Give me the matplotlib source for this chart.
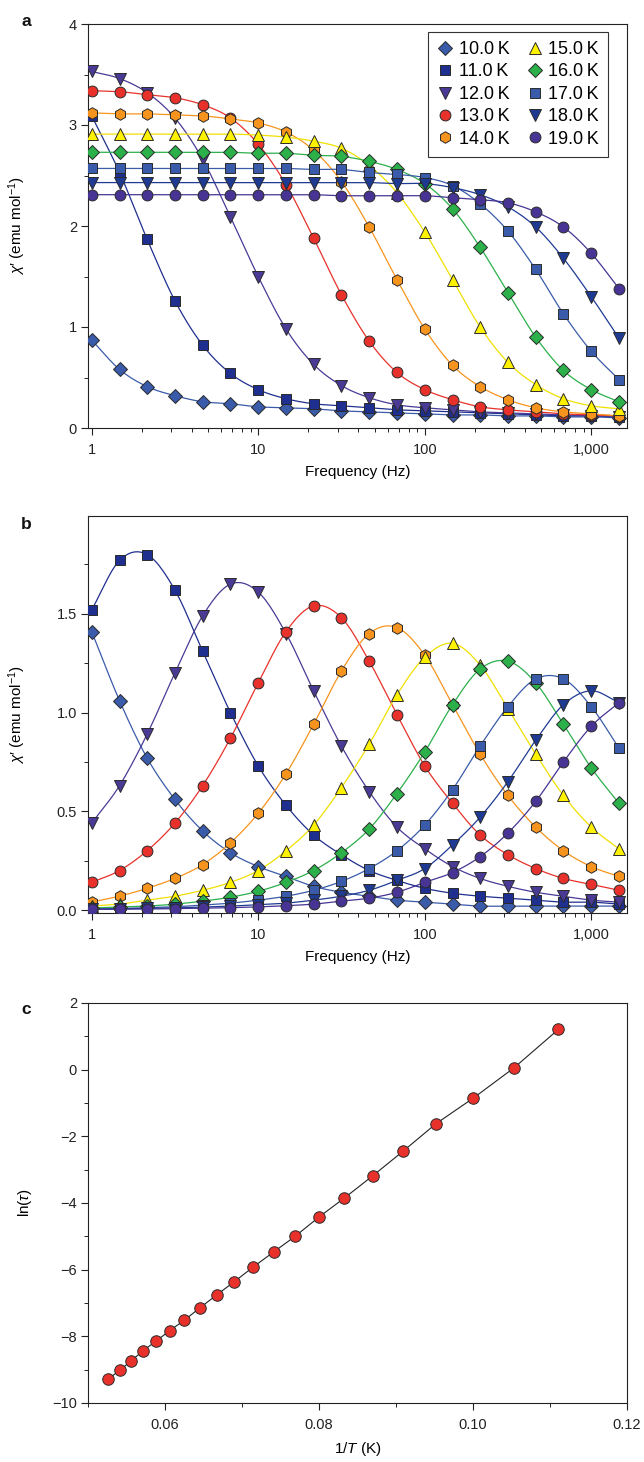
import numpy as np
import matplotlib
matplotlib.use("Agg")
import matplotlib.pyplot as plt
from matplotlib.lines import Line2D
from matplotlib.ticker import FixedLocator, FixedFormatter, MultipleLocator, NullFormatter, LogLocator, FuncFormatter

plt.rcParams['font.family'] = ['Liberation Sans', 'DejaVu Sans']
plt.rcParams['mathtext.fontset'] = 'custom'
plt.rcParams['mathtext.rm'] = 'Liberation Sans'
plt.rcParams['mathtext.it'] = 'Liberation Sans:italic'

# ---------------- data ----------------
freq = [1.0, 1.47, 2.15, 3.16, 4.64, 6.81, 10.0, 14.7, 21.5, 31.6,
        46.4, 68.1, 100.0, 147.0, 215.0, 316.0, 464.0, 681.0, 1000.0, 1468.0]

temps = ["10.0", "11.0", "12.0", "13.0", "14.0", "15.0", "16.0", "17.0", "18.0", "19.0"]

chi1_10 = [0.87, 0.58, 0.41, 0.32, 0.26, 0.24, 0.21, 0.20, 0.19, 0.17, 0.16, 0.15, 0.14, 0.13, 0.13, 0.12, 0.12, 0.11, 0.11, 0.10]
chi1_11 = [3.09, 2.53, 1.87, 1.26, 0.82, 0.54, 0.38, 0.29, 0.24, 0.22, 0.20, 0.18, 0.17, 0.16, 0.15, 0.14, 0.13, 0.12, 0.12, 0.11]
chi1_12 = [3.53, 3.46, 3.32, 3.07, 2.66, 2.09, 1.50, 0.98, 0.63, 0.42, 0.30, 0.23, 0.20, 0.18, 0.16, 0.15, 0.14, 0.13, 0.12, 0.11]
chi1_13 = [3.34, 3.33, 3.30, 3.27, 3.20, 3.07, 2.81, 2.41, 1.88, 1.32, 0.86, 0.55, 0.38, 0.28, 0.21, 0.18, 0.16, 0.14, 0.13, 0.12]
chi1_14 = [3.12, 3.11, 3.11, 3.10, 3.09, 3.06, 3.02, 2.93, 2.75, 2.44, 1.99, 1.47, 0.98, 0.62, 0.41, 0.28, 0.20, 0.16, 0.14, 0.12]
chi1_15 = [2.91, 2.91, 2.91, 2.91, 2.91, 2.91, 2.90, 2.88, 2.84, 2.77, 2.60, 2.33, 1.94, 1.47, 1.00, 0.65, 0.43, 0.29, 0.22, 0.19]
chi1_16 = [2.73, 2.73, 2.73, 2.73, 2.73, 2.73, 2.72, 2.72, 2.70, 2.69, 2.64, 2.56, 2.42, 2.17, 1.79, 1.34, 0.90, 0.57, 0.38, 0.26]
chi1_17 = [2.57, 2.57, 2.57, 2.57, 2.57, 2.57, 2.57, 2.57, 2.56, 2.56, 2.53, 2.51, 2.48, 2.40, 2.22, 1.95, 1.57, 1.13, 0.76, 0.48]
chi1_18 = [2.43, 2.43, 2.43, 2.43, 2.43, 2.43, 2.43, 2.43, 2.43, 2.43, 2.43, 2.42, 2.42, 2.38, 2.31, 2.19, 1.99, 1.68, 1.30, 0.89]
chi1_19 = [2.31, 2.31, 2.31, 2.31, 2.31, 2.31, 2.31, 2.31, 2.31, 2.30, 2.30, 2.30, 2.30, 2.28, 2.26, 2.23, 2.14, 1.99, 1.73, 1.38]

chi2_10 = [1.41, 1.06, 0.77, 0.56, 0.40, 0.29, 0.22, 0.17, 0.12, 0.09, 0.07, 0.05, 0.04, 0.03, 0.02, 0.02, 0.02, 0.02, 0.02, 0.02]
chi2_11 = [1.52, 1.77, 1.80, 1.62, 1.31, 1.00, 0.73, 0.53, 0.38, 0.28, 0.20, 0.15, 0.11, 0.085, 0.07, 0.06, 0.05, 0.04, 0.04, 0.03]
chi2_12 = [0.44, 0.63, 0.89, 1.20, 1.49, 1.65, 1.61, 1.40, 1.11, 0.83, 0.60, 0.42, 0.31, 0.22, 0.16, 0.12, 0.09, 0.07, 0.05, 0.04]
chi2_13 = [0.14, 0.20, 0.30, 0.44, 0.63, 0.87, 1.15, 1.41, 1.54, 1.48, 1.26, 0.99, 0.73, 0.54, 0.38, 0.28, 0.21, 0.16, 0.13, 0.10]
chi2_14 = [0.04, 0.07, 0.11, 0.16, 0.23, 0.34, 0.49, 0.69, 0.94, 1.21, 1.40, 1.43, 1.29, 1.04, 0.79, 0.58, 0.42, 0.30, 0.22, 0.17]
chi2_15 = [0.02, 0.03, 0.05, 0.07, 0.10, 0.14, 0.20, 0.30, 0.43, 0.62, 0.84, 1.09, 1.28, 1.35, 1.24, 1.02, 0.79, 0.58, 0.42, 0.31]
chi2_16 = [0.01, 0.015, 0.02, 0.03, 0.045, 0.065, 0.095, 0.14, 0.20, 0.29, 0.41, 0.59, 0.80, 1.04, 1.22, 1.26, 1.15, 0.94, 0.72, 0.54]
chi2_17 = [0.005, 0.008, 0.012, 0.017, 0.025, 0.035, 0.05, 0.07, 0.10, 0.145, 0.21, 0.30, 0.43, 0.61, 0.83, 1.03, 1.17, 1.17, 1.03, 0.82]
chi2_18 = [0.004, 0.006, 0.008, 0.011, 0.015, 0.02, 0.027, 0.035, 0.05, 0.07, 0.10, 0.15, 0.21, 0.33, 0.47, 0.65, 0.86, 1.04, 1.11, 1.05]
chi2_19 = [0.003, 0.004, 0.005, 0.007, 0.009, 0.012, 0.016, 0.022, 0.03, 0.045, 0.06, 0.09, 0.14, 0.19, 0.27, 0.39, 0.55, 0.75, 0.93, 1.05]

inv_T = [0.0526, 0.0541, 0.0556, 0.0571, 0.0588, 0.0606, 0.0625, 0.0645, 0.0667, 0.0690,
         0.0714, 0.0741, 0.0769, 0.0800, 0.0833, 0.0870, 0.0909, 0.0952, 0.1000, 0.1053, 0.1111]
ln_tau = [-9.29, -9.02, -8.74, -8.44, -8.15, -7.83, -7.52, -7.15, -6.76, -6.36,
          -5.93, -5.47, -5.00, -4.42, -3.85, -3.18, -2.45, -1.62, -0.86, 0.05, 1.21]

chi1 = [chi1_10, chi1_11, chi1_12, chi1_13, chi1_14, chi1_15, chi1_16, chi1_17, chi1_18, chi1_19]
chi2 = [chi2_10, chi2_11, chi2_12, chi2_13, chi2_14, chi2_15, chi2_16, chi2_17, chi2_18, chi2_19]

# ---------------- styles ----------------
fills = ['#3a5ba9', '#1f2f8f', '#4a3a96', '#e8312b', '#f7941d',
         '#fff200', '#2bb04a', '#3a5ba9', '#1f3a93', '#473494']
lines = ['#3a5ba9', '#1f2f8f', '#4a3a96', '#e8312b', '#f7941d',
         '#efe000', '#2bb04a', '#3a5ba9', '#1f3a93', '#473494']
marks = ['D', 's', 'v', 'o', 'h', '^', 'D', 's', 'v', 'o']
msize = [7.0, 7.0, 8.0, 7.8, 8.3, 8.0, 7.0, 7.0, 8.0, 7.8]
EDGE = '#2a2a2a'


def smooth(xv, yv, n=14):
    lx = np.log10(np.asarray(xv, float))
    y = np.asarray(yv, float)
    ye = np.concatenate([[2 * y[0] - y[1]], y, [2 * y[-1] - y[-2]]])
    t = np.linspace(0, 1, n, endpoint=False)
    xs, ys = [], []
    for j in range(len(lx) - 1):
        p0, p1, p2, p3 = ye[j], ye[j + 1], ye[j + 2], ye[j + 3]
        yy = 0.5 * (2 * p1 + (-p0 + p2) * t + (2 * p0 - 5 * p1 + 4 * p2 - p3) * t ** 2
                    + (-p0 + 3 * p1 - 3 * p2 + p3) * t ** 3)
        xx = lx[j] + (lx[j + 1] - lx[j]) * t
        xs.append(xx)
        ys.append(yy)
    xs.append([lx[-1]])
    ys.append([y[-1]])
    return 10 ** np.concatenate(xs), np.concatenate(ys)


W, H = 644, 1462
fig = plt.figure(figsize=(W / 100, H / 100), dpi=100)

left_px, right_px = 88, 627


def make_ax(top, bottom):
    return fig.add_axes([left_px / W, 1 - bottom / H, (right_px - left_px) / W, (bottom - top) / H])


axa = make_ax(24, 428)
axb = make_ax(516, 913)
axc = make_ax(1003, 1403)

TICKFS = 10.5
LABFS = 11


def style(ax):
    for s in ax.spines.values():
        s.set_linewidth(0.8)
        s.set_color('#222222')
    ax.tick_params(which='major', direction='out', length=5, width=0.8, labelsize=TICKFS, colors='#222222')
    ax.tick_params(which='minor', direction='out', length=3, width=0.7, colors='#222222')
    ax.tick_params(axis='x', which='major', pad=5.5)
    ax.tick_params(axis='y', which='major', pad=3)


def freq_axis(ax):
    ax.set_xscale('log')
    ax.set_xlim(0.95, 1640)
    ax.xaxis.set_major_locator(FixedLocator([1, 10, 100, 1000]))
    ax.xaxis.set_major_formatter(FixedFormatter(['1', '10', '100', '1,000']))
    ax.xaxis.set_minor_locator(LogLocator(base=10, subs=np.arange(2, 10), numticks=20))
    ax.xaxis.set_minor_formatter(NullFormatter())
    ax.set_xlabel('Frequency (Hz)', fontsize=LABFS, labelpad=6)


# ---------- panel a ----------
for i in range(10):
    xs, ys = smooth(freq, chi1[i])
    axa.plot(xs, ys, '-', color=lines[i], lw=0.9, zorder=2)
for i in range(10):
    axa.plot(freq, chi1[i], linestyle='none', marker=marks[i], ms=msize[i],
             mfc=fills[i], mec=EDGE, mew=0.7, zorder=3)
freq_axis(axa)
axa.set_ylim(0, 4)
axa.yaxis.set_major_locator(MultipleLocator(1))
axa.yaxis.set_minor_locator(MultipleLocator(0.5))
axa.set_ylabel('$\\chi$\u2032 (emu mol$^{-1}$)', fontsize=LABFS)
axa.yaxis.set_label_coords((28 - left_px) / (right_px - left_px), 0.5)
style(axa)

handles = [Line2D([], [], linestyle='none', marker=marks[i], ms=msize[i], mfc=fills[i], mec=EDGE, mew=0.7)
           for i in range(10)]
labels = [t + '\u2009K' for t in temps]
leg = axa.legend(handles, labels, loc='upper right',
                 bbox_to_anchor=((608 - left_px) / (right_px - left_px), 1 - 8 / 404),
                 ncol=2, fontsize=13, frameon=True, fancybox=False, framealpha=1, edgecolor='#333333',
                 borderaxespad=0, borderpad=0.5, labelspacing=0.3, handlelength=0.9,
                 handletextpad=0.3, columnspacing=0.95)
leg.get_frame().set_linewidth(0.8)

# ---------- panel b ----------
for i in range(10):
    xs, ys = smooth(freq, chi2[i])
    axb.plot(xs, ys, '-', color=lines[i], lw=0.9, zorder=2)
for i in range(10):
    axb.plot(freq, chi2[i], linestyle='none', marker=marks[i], ms=msize[i],
             mfc=fills[i], mec=EDGE, mew=0.7, zorder=3)
freq_axis(axb)
axb.set_ylim(-0.015, 1.995)
axb.yaxis.set_major_locator(FixedLocator([0.0, 0.5, 1.0, 1.5]))
axb.yaxis.set_major_formatter(FixedFormatter(['0.0', '0.5', '1.0', '1.5']))
axb.yaxis.set_minor_locator(FixedLocator([0.25, 0.75, 1.25, 1.75]))
axb.set_ylabel('$\\chi$\u2032 (emu mol$^{-1}$)', fontsize=LABFS)
axb.yaxis.set_label_coords((28 - left_px) / (right_px - left_px), 0.5)
style(axb)

# ---------- panel c ----------
axc.plot(inv_T, ln_tau, '-', color='#222222', lw=0.8, zorder=2)
axc.plot(inv_T, ln_tau, linestyle='none', marker='o', ms=8.3, mfc='#e8312b', mec=EDGE, mew=0.7, zorder=3)
axc.set_xlim(0.05, 0.12)
axc.set_ylim(-10, 2)
axc.xaxis.set_major_locator(FixedLocator([0.06, 0.08, 0.10, 0.12]))
axc.xaxis.set_major_formatter(FixedFormatter(['0.06', '0.08', '0.10', '0.12']))
axc.xaxis.set_minor_locator(FixedLocator([0.05, 0.07, 0.09, 0.11]))
axc.yaxis.set_major_locator(MultipleLocator(2))
axc.yaxis.set_minor_locator(MultipleLocator(1))
axc.yaxis.set_major_formatter(FuncFormatter(lambda v, p: ('\u2212%d' % abs(v)) if v < 0 else '%d' % v))
axc.set_xlabel('1/$\\mathit{T}$ (K)', fontsize=LABFS, labelpad=6)
axc.set_ylabel('ln($\\mathit{\\tau}$)', fontsize=LABFS)
axc.yaxis.set_label_coords((34 - left_px) / (right_px - left_px), 0.5)
style(axc)

# panel letters
for txt, ypx in (('a', 22), ('b', 525), ('c', 1010)):
    fig.text(21 / W, 1 - ypx / H, txt, fontsize=12.5, fontweight='bold', ha='left', va='center', color='#111111')

fig.savefig('out.png', dpi=100, facecolor='white')
